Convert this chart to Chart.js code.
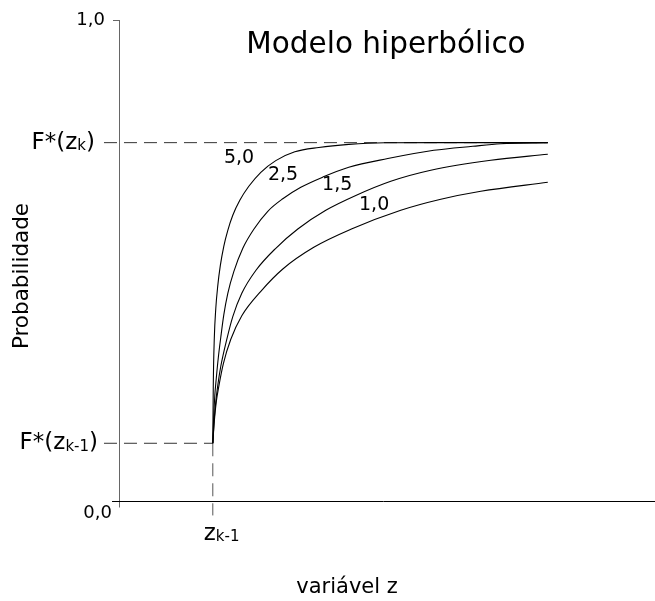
<!DOCTYPE html>
<html>
<head>
<meta charset="utf-8">
<script src="https://cdn.jsdelivr.net/npm/chart.js@4.4.1/dist/chart.umd.min.js"></script>
<style>
  body { margin: 0; background: #fff; }
  canvas { display: block; }
</style>
</head>
<body>
<canvas id="grafico" width="655" height="601"></canvas>
<script>
// limites da classe: z(k-1) e F*(z) nos dois extremos
const zInicio = 1.75;
const zFim = 8.0;
const pSup = 0.745;   // F*(z_k)
const pInf = 0.12;    // F*(z_k-1)

// expoentes das curvas
const expoentes = ['5,0', '2,5', '1,5', '1,0'];

// curva 5,0
const z50 = [1.75, 1.759, 1.778, 1.806, 1.843, 1.89, 1.955, 2.03, 2.123, 2.254, 2.422, 2.646, 2.925, 3.28, 3.728, 4.287, 4.959, 5.873, 8.0];
const p50 = [0.12, 0.2406, 0.3383, 0.4007, 0.4477, 0.4892, 0.5296, 0.5628, 0.594, 0.6252, 0.6543, 0.6834, 0.7077, 0.726, 0.735, 0.7414, 0.7447, 0.745, 0.745];
// curva 2,5
const z25 = [1.75, 1.765, 1.787, 1.815, 1.853, 1.899, 1.955, 2.03, 2.142, 2.31, 2.515, 2.776, 3.056, 3.392, 3.802, 4.287, 5.015, 5.873, 6.601, 7.123, 8.0];
const p25 = [0.12, 0.1699, 0.2188, 0.2551, 0.2984, 0.3404, 0.3869, 0.4319, 0.4768, 0.5254, 0.5649, 0.6023, 0.6283, 0.6522, 0.6734, 0.6938, 0.7119, 0.7291, 0.7375, 0.7427, 0.745];
// curva 1,5
const z15 = [1.75, 1.778, 1.806, 1.843, 1.899, 2.011, 2.123, 2.291, 2.552, 2.925, 3.336, 3.858, 4.418, 5.071, 5.817, 6.937, 8.0];
const p15 = [0.12, 0.172, 0.2067, 0.2406, 0.2801, 0.3362, 0.3834, 0.4319, 0.4793, 0.5254, 0.5655, 0.6044, 0.6352, 0.6647, 0.6876, 0.7084, 0.7208];
// curva 1,0
const z10 = [1.75, 1.778, 1.815, 1.862, 1.946, 2.086, 2.291, 2.646, 3.056, 3.634, 4.325, 5.257, 6.004, 6.75, 8.0];
const p10 = [0.12, 0.1657, 0.2063, 0.2385, 0.2853, 0.3362, 0.3851, 0.436, 0.4824, 0.5275, 0.5649, 0.6044, 0.6273, 0.6439, 0.6626];

const zCurvas = [z50, z25, z15, z10];
const pCurvas = [p50, p25, p15, p10];

const fonte = "'DejaVu Sans', sans-serif";

function pontos(zs, ps) {
    return zs.map((z, i) => ({ x: z, y: ps[i] }));
}

const datasets = zCurvas.map((zs, i) => ({
    label: expoentes[i],
    data: pontos(zs, pCurvas[i]),
    borderColor: '#000',
    borderWidth: 1.1,
    pointRadius: 0,
    fill: false,
    cubicInterpolationMode: 'monotone'
}));

// linhas tracejadas de referência
datasets.push({
    label: 'F*(zk)',
    data: [{ x: -0.28, y: pSup }, { x: zFim, y: pSup }],
    borderColor: '#333',
    borderWidth: 1,
    borderDash: [13, 7],
    pointRadius: 0,
    clip: false
});
datasets.push({
    label: 'F*(zk-1)',
    data: [{ x: -0.28, y: pInf }, { x: zInicio, y: pInf }],
    borderColor: '#333',
    borderWidth: 1,
    borderDash: [13, 7],
    pointRadius: 0,
    clip: false
});
datasets.push({
    label: 'zk-1',
    data: [{ x: zInicio, y: pInf }, { x: zInicio, y: -0.03 }],
    borderColor: '#555',
    borderWidth: 1,
    borderDash: [13, 7],
    pointRadius: 0,
    clip: false
});

// texto com subscrito: base + sub + resto
function textoSub(ctx, base, sub, resto, x, y, tam, alinhar) {
    const grande = tam + 'px ' + fonte;
    const pequeno = Math.round(tam * 0.66) + 'px ' + fonte;
    ctx.font = grande;
    const w1 = ctx.measureText(base).width;
    const w3 = ctx.measureText(resto).width;
    ctx.font = pequeno;
    const w2 = ctx.measureText(sub).width;
    const total = w1 + w2 + w3;
    let x0 = x;
    if (alinhar === 'right') x0 = x - total;
    if (alinhar === 'center') x0 = x - total / 2;
    ctx.textAlign = 'left';
    ctx.textBaseline = 'middle';
    ctx.font = grande;
    ctx.fillText(base, x0, y);
    ctx.font = pequeno;
    ctx.fillText(sub, x0 + w1, y + tam * 0.15);
    ctx.font = grande;
    ctx.fillText(resto, x0 + w1 + w2, y);
}

const eixosETextos = {
    id: 'eixosETextos',
    afterDraw(chart) {
        const ctx = chart.ctx;
        const xs = chart.scales.x;
        const ys = chart.scales.y;
        const x0 = xs.getPixelForValue(0);
        const y0 = ys.getPixelForValue(0);
        const y1 = ys.getPixelForValue(1);

        ctx.save();
        // eixo vertical
        ctx.strokeStyle = '#666';
        ctx.lineWidth = 1;
        ctx.beginPath();
        ctx.moveTo(x0 + 0.5, y1);
        ctx.lineTo(x0 + 0.5, ys.getPixelForValue(-0.0135));
        ctx.moveTo(x0 - 6, y1 + 0.5);
        ctx.lineTo(x0, y1 + 0.5);
        ctx.stroke();
        // eixo horizontal
        ctx.strokeStyle = '#000';
        ctx.beginPath();
        ctx.moveTo(xs.getPixelForValue(-0.13), y0 + 0.5);
        ctx.lineTo(xs.right, y0 + 0.5);
        ctx.stroke();

        ctx.fillStyle = '#000';
        ctx.textBaseline = 'middle';
        ctx.font = '18px ' + fonte;
        ctx.textAlign = 'right';
        ctx.fillText('1,0', x0 - 14, y1);
        ctx.fillText('0,0', x0 - 7, y0 + 12);

        textoSub(ctx, 'F*(z', 'k', ')', x0 - 24, ys.getPixelForValue(pSup), 23, 'right');
        textoSub(ctx, 'F*(z', 'k-1', ')', x0 - 21, ys.getPixelForValue(pInf), 23, 'right');
        textoSub(ctx, 'z', 'k-1', '', xs.getPixelForValue(zInicio) - 9, y0 + 33, 23, 'left');

        // rótulos das curvas
        const rotulos = [[2.24, 0.713], [3.06, 0.678], [4.07, 0.657], [4.76, 0.615]];
        ctx.font = '19px ' + fonte;
        ctx.textAlign = 'center';
        expoentes.forEach((txt, i) => {
            ctx.fillText(txt, xs.getPixelForValue(rotulos[i][0]), ys.getPixelForValue(rotulos[i][1]));
        });

        // títulos
        ctx.font = '29.5px ' + fonte;
        ctx.fillText('Modelo hiperbólico', 386, 45);
        ctx.font = '21px ' + fonte;
        ctx.fillText('variável z', 347, 588);
        ctx.translate(22, 276);
        ctx.rotate(-Math.PI / 2);
        ctx.font = '21.5px ' + fonte;
        ctx.fillText('Probabilidade', 0, 0);
        ctx.restore();
    }
};

new Chart(document.getElementById('grafico').getContext('2d'), {
    type: 'line',
    data: { datasets: datasets },
    options: {
        responsive: false,
        animation: false,
        events: [],
        layout: { padding: { left: 119, right: 0, top: 20, bottom: 100 } },
        scales: {
            x: { type: 'linear', min: 0, max: 10, display: false },
            y: { type: 'linear', min: 0, max: 1, display: false }
        },
        plugins: {
            legend: { display: false },
            tooltip: { enabled: false }
        }
    },
    plugins: [eixosETextos]
});
</script>
</body>
</html>
